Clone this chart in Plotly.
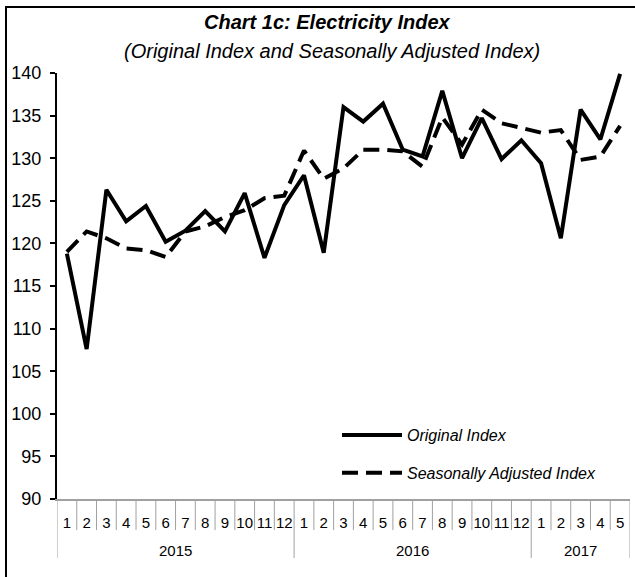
import plotly.graph_objects as go

years = ["2015"] * 12 + ["2016"] * 12 + ["2017"] * 5
months = [str(m) for m in range(1, 13)] + [str(m) for m in range(1, 13)] + [str(m) for m in range(1, 6)]

original_index = [118.8, 107.6, 126.3, 122.6, 124.4, 120.2, 121.5, 123.8, 121.4, 125.9, 118.3, 124.5,
                  128.0, 118.9, 136.0, 134.3, 136.4, 131.0, 130.2, 137.9, 130.0, 134.7, 129.9, 132.1,
                  129.4, 120.6, 135.7, 132.2, 139.9]
seasonally_adjusted = [119.0, 121.4, 120.6, 119.4, 119.2, 118.4, 121.4, 122.0, 123.1, 123.9, 125.3, 125.6,
                       130.9, 127.6, 128.8, 131.0, 131.0, 130.8, 129.0, 134.8, 131.6, 135.7, 134.1, 133.6,
                       133.0, 133.3, 129.8, 130.2, 133.8]

keys = [f"{y}-{m}" for y, m in zip(years, months)]
n = len(keys)

fig = go.Figure()
fig.add_trace(go.Scatter(x=keys, y=original_index, mode="lines", name="Original Index",
                         line=dict(color="black", width=4), legendgroup="a"))
fig.add_trace(go.Scatter(x=keys, y=seasonally_adjusted, mode="lines", name="Seasonally Adjusted Index",
                         line=dict(color="black", width=4, dash="16px,8px"), legendgroup="b"))

L, R, T, B = 57, 5, 73, 78
W, H = 635, 577
pw, ph = W - L - R, H - T - B

def px(xp):
    return (xp - L) / pw

def py(yp):
    return (H - B - yp) / ph

GRAY = "#a0a0a0"

# year groups (first/last index of each year), derived from the data
groups = []
for i, y in enumerate(years):
    if not groups or groups[-1][0] != y:
        groups.append([y, i, i])
    else:
        groups[-1][2] = i

annotations = [
    dict(text="<b><i>Chart 1c: Electricity Index</i></b>", x=px(327), y=py(22),
         xref="paper", yref="paper", showarrow=False, font=dict(size=20),
         xanchor="center", yanchor="middle"),
    dict(text="<i>(Original Index and Seasonally Adjusted Index)</i>", x=px(332), y=py(51),
         xref="paper", yref="paper", showarrow=False, font=dict(size=20),
         xanchor="center", yanchor="middle"),
]
shapes = [
    dict(type="rect", xref="paper", yref="paper", x0=px(6), x1=px(645), y0=py(590), y1=py(7),
         line=dict(color="black", width=2), layer="below"),
]
for y, a, b in groups:
    annotations.append(dict(text=y, x=(a + b) / 2, y=py(550), xref="x", yref="paper",
                            showarrow=False, font=dict(size=15), xanchor="center", yanchor="middle"))
# month box dividers and longer year dividers at category boundaries
for i in range(n + 1):
    bd = i - 0.5
    is_year_edge = i == 0 or i == n or (0 < i < n and years[i] != years[i - 1])
    y1 = py(558) if is_year_edge else py(530)
    shapes.append(dict(type="line", xref="x", yref="paper", x0=bd, x1=bd, y0=py(499), y1=y1,
                       line=dict(color=GRAY, width=1)))

fig.update_layout(
    width=W, height=H,
    margin=dict(l=L, r=R, t=T, b=B, autoexpand=False),
    paper_bgcolor="white", plot_bgcolor="white",
    font=dict(family="Liberation Sans, Arial, sans-serif", color="black"),
    showlegend=True,
    legend=dict(x=px(337), y=py(418), xanchor="left", yanchor="top",
                font=dict(size=16, style="italic"), bgcolor="rgba(0,0,0,0)",
                tracegroupgap=14, itemwidth=60),
    annotations=annotations,
    shapes=shapes,
)

fig.update_xaxes(
    type="category", automargin=False, tickangle=0,
    categoryorder="array", categoryarray=keys,
    tickmode="array", tickvals=keys, ticktext=months,
    range=[-0.5, n - 0.5],
    showline=True, linecolor=GRAY, linewidth=2,
    ticks="", ticklabelstandoff=9,
    tickfont=dict(size=15, color="black"),
    showgrid=False, zeroline=False,
)
fig.update_yaxes(
    range=[90, 140], dtick=5, tick0=90, automargin=False,
    showline=True, linecolor="black", linewidth=2,
    ticks="outside", ticklen=5, tickcolor="black", tickwidth=2, ticklabelstandoff=5,
    tickfont=dict(family="Liberation Sans, Arial, sans-serif", size=18, color="black"),
    showgrid=False, zeroline=False,
)

fig.write_html("out.html", config={"displayModeBar": False},
               post_script="document.body.style.margin='0';")
